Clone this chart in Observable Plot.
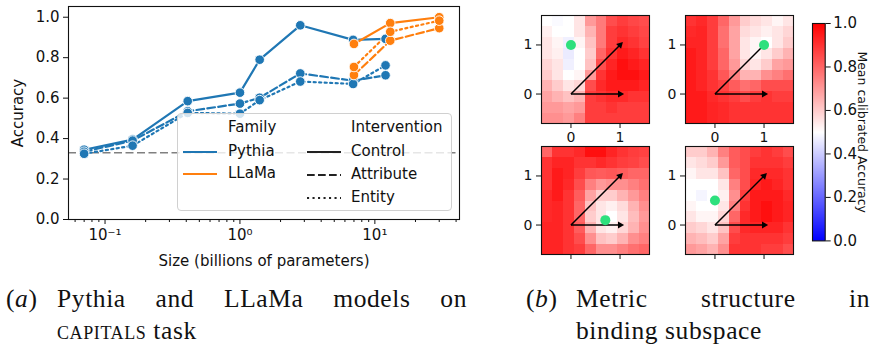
<!DOCTYPE html>
<html><head><meta charset="utf-8">
<script src="https://cdn.jsdelivr.net/npm/d3@7"></script>
<script src="https://cdn.jsdelivr.net/npm/@observablehq/plot@0.6"></script>
<style>
body{margin:0;background:#fff;}
#root{position:relative;width:873px;height:350px;overflow:hidden;background:#fff;font-family:"DejaVu Sans",sans-serif;color:#111;}
.legend{position:absolute;left:177px;top:113px;width:273px;height:96px;border:1px solid #d0d0d0;border-radius:4px;background:rgba(255,255,255,0.8);font-family:"DejaVu Sans";font-size:15px;color:#111;}
.legend .t{position:absolute;line-height:1;white-space:nowrap;}
.legend svg{position:absolute;display:block;}
.cap{position:absolute;font-family:"Liberation Serif",serif;font-size:25.5px;letter-spacing:0.6px;color:#111;line-height:32px;white-space:nowrap;}
.cap .lab{position:absolute;left:0;top:0;}
.cap .l1{position:absolute;top:0;text-align:justify;text-align-last:justify;}
.cap .l2{position:absolute;top:32px;}
.sc{font-variant:small-caps;}
</style></head><body><div id="root"></div><script>
// ---------- Data: panel (a) ----------
const families = ["Pythia", "LLaMa"];
const familyColors = ["#1f77b4", "#ff7f0e"];
const interventions = ["Control", "Attribute", "Entity"];
const pythiaSizes = [0.07, 0.16, 0.41, 1.0, 1.4, 2.8, 6.9, 12];
const pythiaControl = [0.345, 0.395, 0.585, 0.627, 0.79, 0.96, 0.888, 0.893];
const pythiaAttribute = [0.335, 0.39, 0.535, 0.573, 0.602, 0.722, 0.686, 0.713];
const pythiaEntity = [0.325, 0.365, 0.527, 0.523, 0.59, 0.682, 0.67, 0.762];
const llamaSizes = [7, 13, 30];
const llamaControl = [0.868, 0.971, 1.0];
const llamaAttribute = [0.714, 0.884, 0.946];
const llamaEntity = [0.754, 0.928, 0.983];
const chanceLevel = 0.33;
const xMajorTicks = [0.1, 1, 10];
const xTickLabels = ["10\u207B\u00B9", "10\u2070", "10\u00B9"];
const xMinorTicks = [0.06, 0.07, 0.08, 0.09, 0.2, 0.3, 0.4, 0.5, 0.6, 0.7, 0.8, 0.9, 2, 3, 4, 5, 6, 7, 8, 9, 20, 30, 40];
const yTicks = [0, 0.2, 0.4, 0.6, 0.8, 1.0];

// ---------- Data: panel (b) heatmaps (rows top -> bottom, 10x10) ----------
const gridTicks = [0, 1];
const basisVectors = [{x1: 0, y1: 0, x2: 1, y2: 1}, {x1: 0, y1: 0, x2: 1, y2: 0}];
const heatmapA = [
0.50,0.49,0.50,0.55,0.70,0.76,0.85,0.88,0.86,0.85,
0.53,0.50,0.50,0.55,0.65,0.76,0.88,0.90,0.88,0.86,
0.55,0.52,0.47,0.52,0.62,0.76,0.88,0.92,0.90,0.87,
0.55,0.53,0.46,0.50,0.60,0.80,0.90,0.95,0.93,0.90,
0.58,0.55,0.47,0.50,0.62,0.85,0.93,0.97,0.95,0.93,
0.60,0.55,0.50,0.52,0.70,0.90,0.95,0.97,0.97,0.95,
0.65,0.60,0.55,0.58,0.85,0.92,0.95,0.95,0.95,0.93,
0.68,0.65,0.62,0.65,0.88,0.90,0.92,0.92,0.90,0.90,
0.70,0.70,0.68,0.70,0.88,0.88,0.90,0.88,0.88,0.88,
0.72,0.72,0.70,0.75,0.88,0.88,0.88,0.88,0.88,0.88];
const heatmapB = [
0.90,0.92,0.88,0.80,0.70,0.60,0.57,0.55,0.52,0.55,
0.92,0.93,0.88,0.78,0.68,0.57,0.55,0.53,0.55,0.58,
0.93,0.93,0.88,0.78,0.68,0.55,0.52,0.50,0.55,0.60,
0.95,0.93,0.88,0.80,0.68,0.55,0.52,0.55,0.60,0.65,
0.95,0.93,0.88,0.80,0.70,0.58,0.55,0.60,0.68,0.70,
0.95,0.93,0.90,0.83,0.75,0.65,0.65,0.72,0.75,0.78,
0.95,0.93,0.90,0.87,0.82,0.78,0.80,0.85,0.85,0.85,
0.95,0.95,0.92,0.90,0.88,0.85,0.88,0.90,0.88,0.88,
0.95,0.95,0.93,0.92,0.90,0.90,0.90,0.90,0.90,0.90,
0.95,0.95,0.93,0.92,0.90,0.90,0.90,0.90,0.90,0.90];
const heatmapC = [
0.80,0.90,0.90,0.92,0.97,0.97,0.93,0.90,0.88,0.87,
0.90,0.93,0.93,0.90,0.90,0.92,0.90,0.88,0.87,0.85,
0.90,0.95,0.93,0.88,0.83,0.82,0.83,0.82,0.80,0.80,
0.90,0.95,0.92,0.85,0.75,0.70,0.72,0.72,0.75,0.78,
0.92,0.95,0.90,0.82,0.68,0.60,0.60,0.65,0.70,0.75,
0.92,0.93,0.90,0.80,0.62,0.55,0.53,0.57,0.65,0.72,
0.92,0.93,0.90,0.80,0.60,0.55,0.50,0.55,0.63,0.70,
0.93,0.93,0.90,0.82,0.65,0.55,0.53,0.58,0.65,0.72,
0.93,0.93,0.90,0.85,0.72,0.62,0.60,0.65,0.72,0.75,
0.93,0.93,0.90,0.88,0.80,0.72,0.72,0.75,0.78,0.80];
const heatmapD = [
0.60,0.60,0.65,0.75,0.82,0.85,0.88,0.90,0.88,0.85,
0.55,0.57,0.60,0.70,0.82,0.85,0.90,0.90,0.90,0.88,
0.52,0.55,0.55,0.62,0.80,0.85,0.92,0.92,0.92,0.90,
0.50,0.50,0.50,0.55,0.75,0.85,0.93,0.95,0.93,0.90,
0.50,0.48,0.50,0.53,0.72,0.88,0.95,0.95,0.95,0.92,
0.52,0.50,0.50,0.55,0.75,0.90,0.95,0.97,0.95,0.93,
0.55,0.52,0.52,0.58,0.80,0.92,0.95,0.97,0.95,0.93,
0.60,0.58,0.55,0.62,0.85,0.92,0.93,0.93,0.93,0.90,
0.65,0.63,0.60,0.68,0.88,0.90,0.90,0.90,0.90,0.88,
0.70,0.68,0.65,0.72,0.90,0.90,0.90,0.88,0.88,0.85];
const greenDots = [[0, 1], [1, 1], [0.7, 0.1], [0, 0.5]];
const colorbarTicks = [0, 0.2, 0.4, 0.6, 0.8, 1.0];

// ---------- Panel (a) ----------
const rows = [];
function addSeries(family, sizes, vals, intervention) {
  sizes.forEach((s, i) => rows.push({family, intervention, size: s, acc: vals[i]}));
}
addSeries("Pythia", pythiaSizes, pythiaControl, "Control");
addSeries("Pythia", pythiaSizes, pythiaAttribute, "Attribute");
addSeries("Pythia", pythiaSizes, pythiaEntity, "Entity");
addSeries("LLaMa", llamaSizes, llamaControl, "Control");
addSeries("LLaMa", llamaSizes, llamaAttribute, "Attribute");
addSeries("LLaMa", llamaSizes, llamaEntity, "Entity");
const dashes = {Control: null, Attribute: "7.7,3.3", Entity: "2.1,3.4"};

const root = document.getElementById("root");
const baseStyle = {fontFamily: "DejaVu Sans", fontSize: "15px", color: "#111", background: "transparent", overflow: "visible"};

const left = Plot.plot({
  width: 470, height: 272,
  marginLeft: 68, marginRight: 11, marginTop: 6, marginBottom: 53,
  style: baseStyle,
  x: {type: "log", domain: [0.0536, 42.4]},
  y: {domain: [0, 1.053]},
  color: {domain: families, range: familyColors},
  marks: [
    Plot.ruleY([chanceLevel], {stroke: "#808080", strokeWidth: 1.6, strokeDasharray: "8,3.5"}),
    ...families.flatMap(f => interventions.map(iv => [f, iv])).map(([f, iv]) =>
      Plot.line(rows.filter(r => r.family === f && r.intervention === iv), {
        x: "size", y: "acc", stroke: "family", strokeWidth: 2.2, strokeDasharray: dashes[iv]
      })),
    Plot.dot(rows, {x: "size", y: "acc", fill: "family", stroke: "white", strokeWidth: 0.9, r: 4.8}),
    Plot.frame({stroke: "#111", strokeWidth: 1.1}),
    Plot.axisX({ticks: xMinorTicks, tickSize: 3, tickFormat: () => "", label: null}),
    Plot.axisX({ticks: xMajorTicks, tickSize: 5, tickPadding: 5,
      tickFormat: d => xTickLabels[xMajorTicks.indexOf(d)],
      label: "Size (billions of parameters)", labelAnchor: "center", labelArrow: "none", labelOffset: 46}),
    Plot.axisY({ticks: yTicks, tickFormat: d3.format(".1f"), tickSize: 5, tickPadding: 4,
      label: "Accuracy", labelAnchor: "center", labelArrow: "none", labelOffset: 56})
  ]
});
left.style.position = "absolute"; left.style.left = "0px"; left.style.top = "0px";
root.appendChild(left);

// legend (overlay inside the axes)
const legend = document.createElement("div");
legend.className = "legend";
function lineSvg(color, dash) {
  return `<svg width="34" height="6" viewBox="0 0 34 6"><line x1="0" y1="3" x2="34" y2="3" stroke="${color}" stroke-width="2.2" ${dash ? `stroke-dasharray="${dash}"` : ""}/></svg>`;
}
const legCol1 = [{t: "Family", y: 14}, {t: families[0], y: 38, c: familyColors[0]}, {t: families[1], y: 60, c: familyColors[1]}];
const legCol2 = [{t: "Intervention", y: 14}, ...interventions.map((iv, i) => ({t: iv, y: 38 + i * 23, c: "#222", d: dashes[iv]}))];
let html = "";
legCol1.forEach(e => {
  html += `<div class="t" style="left:50px;top:${e.y - 8}px">${e.t}</div>`;
  if (e.c) html += `<div style="position:absolute;left:5px;top:${e.y - 3}px;width:34px;height:6px">${lineSvg(e.c, null)}</div>`;
});
legCol2.forEach(e => {
  html += `<div class="t" style="left:173px;top:${e.y - 8}px">${e.t}</div>`;
  if (e.c) html += `<div style="position:absolute;left:129px;top:${e.y - 3}px;width:34px;height:6px">${lineSvg(e.c, e.d)}</div>`;
});
legend.innerHTML = html;
root.appendChild(legend);

// ---------- Panel (b) ----------
const bwr = {type: "linear", domain: [0, 0.5, 1], range: ["#0000ff", "#ffffff", "#ff0000"], interpolate: "rgb"};
const headAngle = d => 90 - Math.atan2(d.y2 - d.y1, d.x2 - d.x1) * 180 / Math.PI;
function heatmap(values, dot, showXLabels) {
  return Plot.plot({
    width: 143, height: 138, marginLeft: 30, marginRight: 5, marginTop: 5, marginBottom: 25,
    style: {...baseStyle, fontSize: "14px"},
    x: {domain: [-0.6, 1.6]}, y: {domain: [-0.6, 1.6]},
    color: bwr,
    marks: [
      Plot.raster(values, {width: 10, height: 10, fill: Plot.identity, x1: -0.6, x2: 1.6, y1: 1.6, y2: -0.6, imageRendering: "pixelated"}),
      Plot.link(basisVectors, {x1: "x1", y1: "y1", x2: "x2", y2: "y2", stroke: "#000", strokeWidth: 1.5}),
      Plot.dot(basisVectors, {x: "x2", y: "y2", symbol: "triangle", rotate: headAngle, r: 2.6, fill: "#000", stroke: "none"}),
      Plot.dot([dot], {x: d => d[0], y: d => d[1], fill: "#2ee07d", r: 5}),
      Plot.frame({stroke: "#111", strokeWidth: 1.1}),
      Plot.axisX({ticks: gridTicks, tickSize: 5, tickPadding: 4, tickFormat: showXLabels ? (d => String(d)) : (() => ""), label: null}),
      Plot.axisY({ticks: gridTicks, tickSize: 5, tickPadding: 4, tickFormat: d => String(d), label: null})
    ]
  });
}
const hmSpecs = [
  {v: heatmapA, dot: greenDots[0], left: 510.7, top: 9.7, lab: true},
  {v: heatmapB, dot: greenDots[1], left: 654.7, top: 9.7, lab: true},
  {v: heatmapC, dot: greenDots[2], left: 510.7, top: 140.7, lab: false},
  {v: heatmapD, dot: greenDots[3], left: 654.7, top: 140.7, lab: false}
];
hmSpecs.forEach(s => {
  const p = heatmap(s.v, s.dot, s.lab);
  p.style.position = "absolute"; p.style.left = s.left + "px"; p.style.top = s.top + "px";
  root.appendChild(p);
});

// colorbar
const cbar = Plot.plot({
  width: 75, height: 233.4, marginLeft: 2, marginRight: 60.3, marginTop: 8, marginBottom: 8,
  style: baseStyle,
  x: {domain: [0, 1], axis: null}, y: {domain: [0, 1]},
  color: bwr,
  marks: [
    Plot.raster({x1: 0, x2: 1, y1: 0, y2: 1, fill: (x, y) => y, pixelSize: 1}),
    Plot.frame({stroke: "#111", strokeWidth: 1.1}),
    Plot.axisY({anchor: "right", ticks: colorbarTicks, tickFormat: d3.format(".1f"), tickSize: 5, tickPadding: 3, label: null}),
    Plot.text(["Mean calibrated Accuracy"], {frameAnchor: "right", textAnchor: "middle", rotate: 90, dx: 37, fontSize: 12.5, fill: "#111"})
  ]
});
cbar.style.position = "absolute"; cbar.style.left = "810.3px"; cbar.style.top = "15.3px";
root.appendChild(cbar);

// ---------- Captions ----------
function caption(x, labelLetter, textX, textW, line1, line2) {
  const d = document.createElement("div");
  d.className = "cap";
  d.style.left = x + "px"; d.style.top = "283px";
  d.innerHTML = `<span class="lab">(<i>${labelLetter}</i>)</span>` +
    `<div class="l1" style="left:${textX - x}px;width:${textW}px">${line1}</div>` +
    `<div class="l2" style="left:${textX - x}px">${line2}</div>`;
  root.appendChild(d);
}
caption(6, "a", 57, 410, "Pythia and LLaMa models on", `<span class="sc">capitals</span> task`);
caption(526, "b", 576, 294, "Metric structure in", "binding subspace");
</script></body></html>
